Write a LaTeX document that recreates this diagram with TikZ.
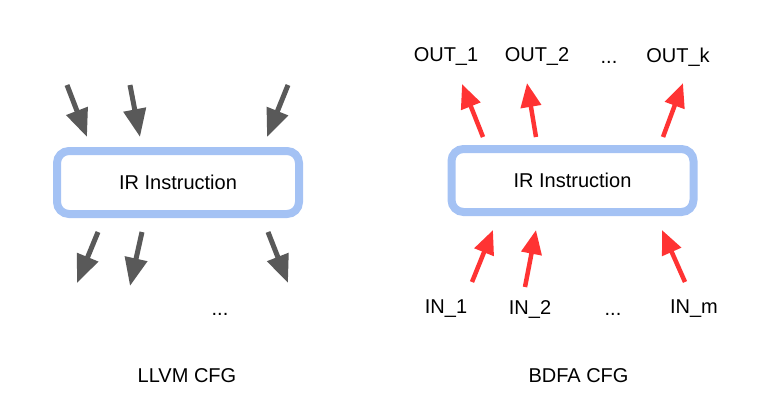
\documentclass[tikz,border=0pt]{standalone}
\usepackage{fontspec}
\setmainfont{Liberation Sans}
\usetikzlibrary{arrows.meta}
\definecolor{boxblue}{HTML}{A4C2F4}
\definecolor{flowgray}{HTML}{595959}
\definecolor{flowred}{HTML}{FF3333}
\tikzset{
  instr/.style={draw=boxblue, line width=8pt, rounded corners=12pt,
    minimum width=242pt, minimum height=63pt, font=\fontsize{20}{22}\selectfont},
  lbl/.style={font=\fontsize{20}{22}\selectfont},
  cfgedge/.style={draw=flowgray, line width=5pt,
    -{Triangle[width=22pt,length=28pt]}},
  dfaedge/.style={draw=flowred, line width=4.5pt,
    -{Triangle[width=20pt,length=24pt]}}
}
\begin{document}
\begin{tikzpicture}[x=1pt,y=-1pt]
  \useasboundingbox (0,0) rectangle (784,413);

  % LLVM CFG
  \node[instr] (L) at (178,182.5) {IR Instruction};
  \node[lbl] (Ldots) at (220,314) {...};
  \node[lbl] (Lcap) at (187,376) {LLVM CFG};

  \coordinate (li1) at (67,85);   \coordinate (lt1) at (87,137);
  \coordinate (li2) at (130,85);  \coordinate (lt2) at (140,137);
  \coordinate (li3) at (288,85);  \coordinate (lt3) at (267,137);
  \coordinate (lo1) at (98,232);  \coordinate (lb1) at (77,283);
  \coordinate (lo2) at (142,232); \coordinate (lb2) at (130,286);
  \coordinate (lo3) at (268,232); \coordinate (lb3) at (288,283);

  \foreach \i in {1,2,3} {
    \draw[cfgedge] (li\i) -- (lt\i);
    \draw[cfgedge] (lo\i) -- (lb\i);
  }

  % BDFA CFG
  \node[instr] (R) at (572.5,180.5) {IR Instruction};
  \node[lbl] (out1) at (446,57) {OUT\_1};
  \node[lbl] (out2) at (537,57) {OUT\_2};
  \node[lbl] (outdots) at (609,62) {...};
  \node[lbl] (outk) at (678,57) {OUT\_k};
  \node[lbl] (in1) at (446,309) {IN\_1};
  \node[lbl] (in2) at (530,309) {IN\_2};
  \node[lbl] (indots) at (613,314) {...};
  \node[lbl] (inm) at (694,309) {IN\_m};
  \node[lbl] (Rcap) at (578.5,376) {BDFA CFG};

  \coordinate (ro1) at (483,137); \coordinate (rt1) at (462,84);
  \coordinate (ro2) at (536,137); \coordinate (rt2) at (527,83);
  \coordinate (ro3) at (663,137); \coordinate (rt3) at (683,83);
  \coordinate (ri1) at (472,282); \coordinate (rb1) at (493,230);
  \coordinate (ri2) at (525,287); \coordinate (rb2) at (536,230);
  \coordinate (ri3) at (685,282); \coordinate (rb3) at (662,230);

  \foreach \i in {1,2,3} {
    \draw[dfaedge] (ro\i) -- (rt\i);
    \draw[dfaedge] (ri\i) -- (rb\i);
  }
\end{tikzpicture}
\end{document}
